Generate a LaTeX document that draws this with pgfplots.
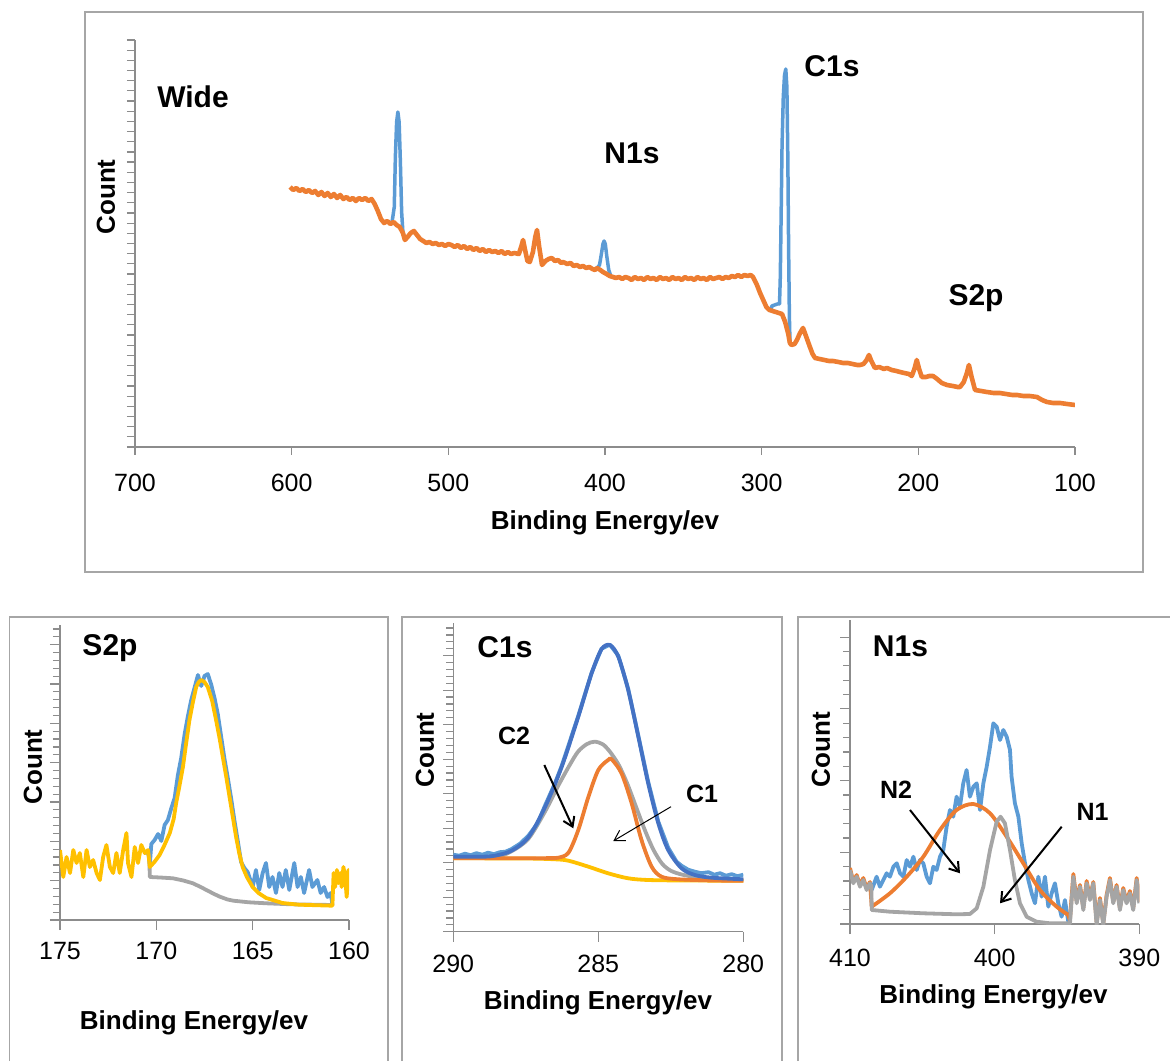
\documentclass[border=0pt]{standalone}
\usepackage{pgfplots}
\pgfplotsset{compat=1.18}
\usepackage{fontspec}
\setmainfont{Liberation Sans}
\usetikzlibrary{arrows.meta}
\definecolor{xblue}{HTML}{5B9BD5}
\definecolor{xorange}{HTML}{ED7D31}
\definecolor{xgray}{HTML}{A5A5A5}
\definecolor{xyellow}{HTML}{FFC000}
\definecolor{xdblue}{HTML}{4472C4}
\definecolor{axgray}{HTML}{8C8C8C}
\definecolor{boxgray}{HTML}{A6A6A6}
\newcommand{\lab}{\fontsize{26}{28}\selectfont\bfseries}
\newcommand{\ttl}{\fontsize{30}{32}\selectfont\bfseries}
\newcommand{\ann}{\fontsize{25}{27}\selectfont\bfseries}
\pgfplotsset{
  xps/.style={
    scale only axis, anchor=south west,
    axis x line=bottom, axis y line=left,
    axis line style={-, draw=axgray, line width=1.5pt},
    x dir=reverse,
    tick align=outside,
    tick style={draw=axgray, line width=1.2pt},
    major tick length=9pt, minor tick length=6pt,
    yticklabels={},
    /pgf/number format/assume math mode=true,
    xticklabel style={font=\fontsize{25}{25}\selectfont, inner sep=0pt, anchor=north},
    every axis plot/.append style={line width=3.8pt, line join=round},
  }
}
\begin{document}
\begin{tikzpicture}[x=1pt,y=1pt]
\path[use as bounding box] (0,0) rectangle (1170,1061);
% frames
\draw[boxgray, line width=1.5pt] (85,1049) rectangle (1143,489);
\draw[boxgray, line width=1.5pt] (9.5,0) -- (9.5,444) -- (388,444) -- (388,0);
\draw[boxgray, line width=1.5pt] (402,0) -- (402,444) -- (782,444) -- (782,0);
\draw[boxgray, line width=1.5pt] (798,0) -- (798,444) -- (1170,444);

% ---------------- Wide ----------------
\begin{axis}[xps, at={(135pt,614pt)}, width=940pt, height=407pt,
  xmin=100, xmax=700, ymin=0, ymax=407,
  xtick={100,200,...,700}, ytick distance=10.175, major tick length=8pt,
  xticklabel style={yshift=-18.5pt}]
\addplot[xblue, line width=3.5pt] coordinates {(537,223)(536,224)(534.5,240)(533.8,290)(533,325)(532.2,335)(531.4,325)(530.6,285)(529.8,235)(529,215)(528,209)};
\addplot[xblue, line width=3.5pt] coordinates {(406.4,177)(405,179)(403.5,182)(402.3,193)(401.3,203)(400.6,206)(399.8,203)(398.8,190)(397.6,177)(396.3,171)(395.5,170)};
\addplot[xblue, line width=3.5pt] coordinates {(294,137)(293.5,141)(290,143)(288.6,143)(288.1,170)(287.5,240)(287,300)(286.2,350)(285.4,372)(284.6,378)(283.9,360)(283.3,290)(282.8,200)(282.3,130)(281.9,104)};
\addplot[xorange, line width=4.6pt] coordinates {
(601,260)(599,257)(597,259)(595,256)(593,258)(591,255)(589,257)(587,254)(585,256)(583,252)(581,255)(579,251)(577,254)(575,250)(573,253)(571,249)(569,252)(567,248)(565,250)(563,247)(561,249)(559,246)(557,249)(555,247)(553,249)(551,246)
(549,248)(547,243)(545,236)(543,228)(541,224)(539,226)(537,223)(535,225)(533,222)(531,220)(529,214)(527.7,207)(526,210)(524,214)(522,216)(520,212)(518,208)(516,206)(514,204)(512,205)(510,203)(508,204)(506,202)(504,203)(502,201)(500,203)(498,202)(496,200)(494,202)(492,199)(490,201)(488,198)(486,200)(484,197)(482,199)(480,196)(478,198)(476,195)(474,197)(472,195)(470,196)(468,194)(466,196)(464,193)(462,195)(460,193)(458,194)
(455,193)(453.5,200)(452.3,207)(451,197)(449.5,186)(448,185)(446,195)(444.5,210)(443.4,217)(442,200)(440.2,182)(438,186)(436,188)(434,189)(432,186)(430,187)(428,184)(426.8,185)(424,183)(422,184)(420,181)(418,182)(416,180)(414,181)(412,179)(410,180)(408,178)(406.4,177)(405.1,179)(403,177)(401.3,175)(399,173)(397,171)(394.9,170)
(393,169)(391,170)(389,168)(387,170)(385,169)(383,167)(381,170)(379,168)(377,169)(375,167)(373,170)(371,168)(369,169)(367,167)(365,170)(363,168)(361,169)(359,167)(357,170)(355,168)(353,169)(351,167)(349,170)(347,168)(345,169)(343,167)(341,170)(339,168)(337,169)(335,167)(333,170)(331,168)(329,169)(327,170)(325,168)(323,170)(321,169)(319,171)(317,170)(315,172)(313,170)(311,172)(309,171)(307,172)(305.5,170)
(303,162)(301,154)(299,147)(297,140)(295,137)(293,136)(291,135)(289,134)(287,133)(285,125)(283,113)(282,104)(281,102)(279,103)(277.5,107)(275.5,114)(273.6,119)(271.5,110)(269.2,100)(267.5,93)(265.9,89)(263,88)(260,87)(257,86)(254.5,86)(251,85)(248,84)(245,84)(242,83)(239,82)(237.2,82)(235,83)(233,87)(231.5,92)(230,86)(227.7,79)(225,80)(222,78)(220,79)(217,77)(214,76)(211.7,75)(209,74)(206,73)(204.2,71)(202.5,78)(201,87)(199.5,78)(197.8,70)(195,70)(193,71)(190.6,71)(188,68)(185,64)(181.7,62)(178,61)(175,60)(173.4,60)(171,65)(169,74)(167.7,82)(166,70)(163.8,57)(160,56)(156.2,55)(152,54)(148,54)(144,53)(140,52)(137,52)(133,51)(129,51)(124.3,50)(121,47)(117.9,45)(114,44)(109.6,44)(105,43)(100,42)};
\end{axis}
\node[font=\ttl] at (193,964) {Wide};
\node[font=\ttl] at (632,908) {N1s};
\node[font=\ttl] at (832,995) {C1s};
\node[font=\ttl] at (976,763) {S2p};
\node[font=\lab, rotate=90] at (106,864) {Count};
\node[font=\lab] at (605,538) {Binding Energy/ev};

% ---------------- S2p ----------------
\begin{axis}[xps, at={(60pt,141pt)}, width=289pt, height=295pt,
  xmin=160, xmax=175, ymin=0, ymax=295,
  xtick={160,165,170,175}, ytick distance=39.33, minor y tick num=4,
  major tick length=10pt, minor tick length=7pt,
  xticklabel style={yshift=-12pt}]
\addplot[xblue] coordinates {(170.43,70)(170.34,55)(170.26,76)(170.09,80)(169.91,86)(169.74,79)(169.57,95)(169.4,100)(169.22,112)(169.05,122)(168.88,145)(168.71,162)(168.53,186)(168.36,204)(168.19,220)(168.02,232)(167.84,245)(167.67,234)(167.5,244)(167.33,246)(167.16,236)(166.98,222)(166.81,206)(166.64,184)(166.47,162)(166.29,142)(166.12,122)(165.95,100)(165.78,80)(165.6,58)(165.43,52)(165.26,48)(165.17,43)(165.0,33)(164.83,50)(164.66,30)(164.48,47)(164.31,57)(164.14,33)(163.97,43)(163.79,27)(163.62,47)(163.45,33)(163.28,50)(163.1,30)(162.84,57)(162.67,33)(162.5,43)(162.33,27)(162.07,50)(161.9,33)(161.64,40)(161.47,27)(161.29,33)(161.12,23)(160.95,27)(160.86,15)};
\addplot[xgray] coordinates {(170.6,67)(170.43,68)(170.36,62)(170.34,43)(169.8,42.5)(169.14,41.7)(168.6,39.5)(168.1,36.7)(167.7,33)(167.4,30)(167.0,26)(166.7,23.3)(166.3,20.5)(166.0,19.3)(165.2,17.7)(164.3,16.7)(163,15.7)(160.86,15)};
\addplot[xyellow] coordinates {(175,70)(174.83,43)(174.66,63)(174.48,47)(174.31,70)(174.14,57)(173.97,67)(173.79,43)(173.62,70)(173.45,53)(173.28,60)(173.1,47)(172.93,40)(172.76,63)(172.59,75)(172.41,53)(172.24,47)(172.07,67)(171.9,47)(171.72,70)(171.55,87)(171.47,57)(171.29,43)(171.12,73)(170.95,57)(170.78,75)(170.6,67)(170.43,70)(170.34,53)
(170.1,58)(169.83,65)(169.6,74)(169.3,87)(169.1,101)(168.97,117)(168.8,134)(168.62,153)(168.45,177)(168.28,200)(168.1,218)(167.93,233)(167.8,238)(167.67,240)(167.5,238)(167.33,233)(167.1,219)(166.9,200)(166.72,182)(166.55,163)(166.37,143)(166.2,123)(166.03,103)(165.86,83)(165.7,67)(165.52,53)(165.3,43)(165.0,33)(164.7,27)(164.3,22)(163.45,17)(162.6,15.3)(160.86,14.3)
(160.8,47)(160.72,33)(160.63,50)(160.55,37)(160.46,47)(160.38,33)(160.29,53)(160.2,43)(160.12,23)(160.03,50)(160,47)};
\end{axis}
\node[font=\ttl] at (110,413) {S2p};
\node[font=\lab, rotate=90] at (33,294) {Count};
\node[font=\lab] at (194,38) {Binding Energy/ev};

% ---------------- C1s ----------------
\begin{axis}[xps, at={(453.3pt,129.3pt)}, width=290pt, height=308.7pt,
  xmin=280, xmax=290, ymin=0, ymax=308.7,
  xtick={280,285,290}, ytick distance=34.5, minor y tick num=4,
  major tick length=10pt, minor tick length=7pt,
  xticklabel style={yshift=-13pt}]
\addplot[xyellow, smooth] coordinates {(290,73.4)(287.5,73.2)(286.49,72.4)(286.03,71)(285.34,65)(284.66,58.4)(283.97,53.4)(283.28,51.7)(282,51.2)(280,51)};
\addplot[xgray, smooth] coordinates {(290,75)(288.56,75)(287.99,80.5)(287.41,93)(286.84,120)(286.4,145)(286.0,166)(285.7,180)(285.4,187.5)(285.13,190)(284.85,187.5)(284.6,180)(284.3,167)(284.0,148)(283.7,125)(283.4,102)(283.1,82)(282.8,68)(282.5,61)(282.1,57)(281.5,54)(281,53)(280,52)};
\addplot[xorange, smooth] coordinates {(290,73.4)(287.5,73.4)(286.7,73.6)(286.38,74)(286.03,79)(285.69,101.7)(285.34,135)(285.0,161.7)(284.66,171.7)(284.54,172.4)(284.2,158.4)(283.85,128.4)(283.51,91.7)(283.16,65)(282.82,55)(282.24,52.4)(281,51.2)(280,51)};
\addplot[xblue] coordinates {(290,77)(289.8,76)(289.6,78)(289.4,76.5)(289.2,78.5)(289.0,77)(288.8,79)(288.6,77.5)(288.4,79.5)(288.2,80)(288.0,82.5)(287.7,88)(287.41,96)(287.1,108)(286.84,126)(286.5,148)(286.26,166)(285.69,216)(285.23,259)(284.89,283)(284.6,287)(284.31,276)(283.97,243)(283.62,196)(283.28,150)(282.93,110)(282.59,84)(282.3,70)(282.13,66)(281.9,62)(281.67,60)(281.45,58.5)(281.2,59.5)(281.0,57)(280.8,58.5)(280.6,56)(280.4,57.5)(280.2,55.5)(280,57)};
\addplot[xdblue, smooth] coordinates {(290,75)(289,75)(288.56,76)(287.99,81)(287.41,94.4)(286.84,124.4)(286.26,165)(285.69,215)(285.23,258.4)(284.89,282.4)(284.6,286.7)(284.31,275)(283.97,241.7)(283.62,195)(283.28,148.4)(282.93,108.4)(282.59,81.7)(282.13,63.4)(281.67,56.7)(281.09,54)(280,52.4)};
\end{axis}
\node[font=\ttl] at (505,414) {C1s};
\node[font=\lab, rotate=90] at (425,311) {Count};
\node[font=\lab] at (598,58) {Binding Energy/ev};
\node[font=\ann] at (514,325) {C2};
\node[font=\ann] at (702,267.5) {C1};
\draw[black, line width=2pt, -{Straight Barb[length=9pt,width=12pt]}] (544.3,296) -- (573.3,232.7);
\draw[black, line width=1pt, -{Straight Barb[length=10pt,width=12pt]}] (671,254.3) -- (613.3,220);

% ---------------- N1s ----------------
\begin{axis}[xps, at={(850pt,137pt)}, width=289.3pt, height=304pt,
  xmin=390, xmax=410, ymin=0, ymax=304,
  xtick={390,400,410}, ytick distance=71.7, minor y tick num=4,
  major tick length=10pt, minor tick length=7pt,
  xticklabel style={yshift=-15pt}]
\addplot[xblue] coordinates {(408.5,34)(408.16,47.3)(407.93,37.3)(407.7,44)(407.47,50.7)(407.24,47.3)(407.0,57.3)(406.77,60.7)(406.54,50.7)(406.31,47.3)(406.08,64)(405.85,57.3)(405.62,67.3)(405.39,54)(405.16,64)(404.93,60.7)(404.7,47.3)(404.47,40.7)(404.24,57.3)(404.01,54)(403.78,67.3)(403.55,74)(403.32,97.3)(403.09,114)(402.86,107.3)(402.63,127.3)(402.4,117.3)(402.17,140.7)(401.94,154)(401.71,127.3)(401.47,137.3)(401.24,140.7)(401.01,114)(400.78,140.7)(400.55,157.3)(400.32,177.3)(400.09,200.7)(399.86,197.3)(399.63,184)(399.4,194)(399.17,187.3)(398.94,174)(398.83,147.3)(398.6,120.7)(398.36,107.3)(398.13,80.7)(397.9,60.7)(397.67,44)(397.44,30.7)(397.21,20.7)(396.98,47.3)(396.75,27.3)(396.52,47.3)(396.29,17.3)(396.06,30.7)(395.83,40.7)(395.6,20.7)(395.37,7.3)(395.14,24)(394.91,2.3)};
\addplot[xorange, smooth] coordinates {(408.5,17.3)(407.24,30.7)(406.08,47.3)(404.93,67.3)(403.78,94)(402.63,114)(401.47,120)(400.32,110.7)(399.17,87.3)(398.02,60.7)(396.87,34)(395.71,17.3)(394.91,9)};
\addplot[xorange] coordinates {(410,56)(409.77,42)(409.54,49)(409.31,39)(409.08,46)(408.85,36)(408.62,42)(408.5,17.3)};
\addplot[xorange] coordinates {(394.91,9)(394.8,4)(394.56,50)(394.33,23)(394.1,39)(393.87,16)(393.64,43)(393.41,26)(393.18,42)(392.95,2)(392.72,26)(392.49,1)(392.26,29)(392.03,46)(391.8,22)(391.57,39)(391.34,16)(391.11,36)(390.88,22)(390.65,33)(390.42,16)(390.18,46)(390,22)};
\addplot[xgray] coordinates {(410,54)(409.77,40.7)(409.54,47.3)(409.31,37.3)(409.08,44)(408.85,34)(408.62,40.7)(408.52,38)(408.5,14)(407.24,12.3)(404.93,10.7)(402.63,9.7)(401.71,10)(401.24,15.7)(400.78,37.3)(400.32,74)(399.86,102.3)(399.59,107.3)(399.29,100.7)(398.94,74)(398.6,44)(398.25,20.7)(397.79,7.3)(397.1,2.3)(396.18,0.7)(394.79,0.7)(394.56,47.3)(394.33,20.7)(394.1,37.3)(393.87,14)(393.64,40.7)(393.41,24)(393.18,40.7)(392.95,-1)(392.72,24)(392.49,-1)(392.26,27.3)(392.03,44)(391.8,20.7)(391.57,37.3)(391.34,14)(391.11,34)(390.88,20.7)(390.65,30.7)(390.42,14)(390.18,44)(390,20.7)};
\end{axis}
\node[font=\ttl] at (900.5,415) {N1s};
\node[font=\lab, rotate=90] at (821,311.5) {Count};
\node[font=\lab] at (993.5,64) {Binding Energy/ev};
\node[font=\ann] at (896,271) {N2};
\node[font=\ann] at (1092.5,249.5) {N1};
\draw[black, line width=2pt, -{Straight Barb[length=9pt,width=12pt]}] (910,251) -- (960,187.7);
\draw[black, line width=2pt, -{Straight Barb[length=9pt,width=12pt]}] (1061.7,234.3) -- (1000,157.7);
\end{tikzpicture}
\end{document}
